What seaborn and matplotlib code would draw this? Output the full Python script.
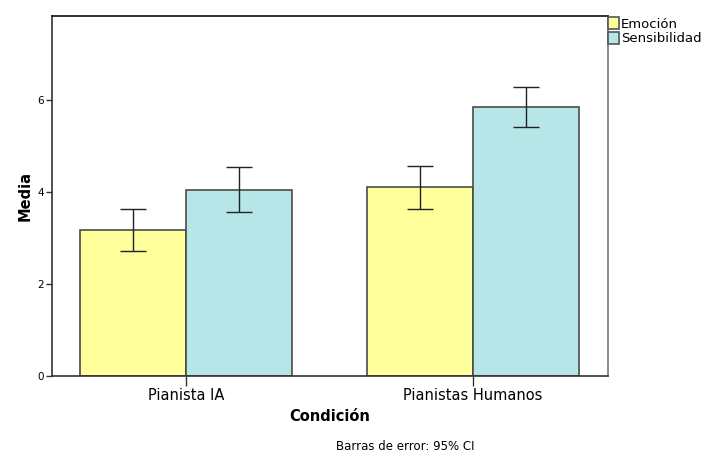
import numpy as np
import pandas as pd
import matplotlib
matplotlib.use("Agg")
import matplotlib.pyplot as plt
import seaborn as sns
from matplotlib.patches import Patch

# --- data ---
condiciones = ["Pianista IA", "Pianistas Humanos"]
medidas = ["Emoción", "Sensibilidad"]
medias_emocion = [3.17, 4.10]
medias_sensibilidad = [4.05, 5.85]
ci_bajo_emocion = [2.72, 3.64]
ci_alto_emocion = [3.63, 4.57]
ci_bajo_sensibilidad = [3.56, 5.41]
ci_alto_sensibilidad = [4.54, 6.29]
yticks = [0, 2, 4, 6]

colores = {"Emoción": "#FFFF9C", "Sensibilidad": "#B6E6E8"}
borde = "#4a4a4a"

df = pd.DataFrame({
    "Condición": condiciones * 2,
    "Medida": [medidas[0]] * 2 + [medidas[1]] * 2,
    "Media": medias_emocion + medias_sensibilidad,
    "lo": ci_bajo_emocion + ci_bajo_sensibilidad,
    "hi": ci_alto_emocion + ci_alto_sensibilidad,
})

sns.set_style("white")
plt.rcParams["font.family"] = ["DejaVu Sans"]
plt.rcParams["text.color"] = "black"
plt.rcParams["axes.labelcolor"] = "black"
plt.rcParams["xtick.color"] = "black"
plt.rcParams["ytick.color"] = "black"

fig = plt.figure(figsize=(7.24, 4.67), dpi=100)
ax = fig.add_axes([52 / 724, 1 - 376 / 467, 556 / 724, 360 / 467])

sns.barplot(
    data=df, x="Condición", y="Media", hue="Medida",
    order=condiciones, hue_order=medidas, palette=colores,
    errorbar=None, width=0.739, gap=0, dodge=True,
    edgecolor=borde, linewidth=1.2, saturation=1, ax=ax, legend=False,
)

# error bars centred on each drawn bar
for i, medida in enumerate(medidas):
    sub = df[df["Medida"] == medida].set_index("Condición").loc[condiciones]
    for j, patch in enumerate(ax.patches[i * len(condiciones):(i + 1) * len(condiciones)]):
        xc = patch.get_x() + patch.get_width() / 2
        m = sub["Media"].iloc[j]
        ax.errorbar(xc, m, yerr=[[m - sub["lo"].iloc[j]], [sub["hi"].iloc[j] - m]],
                    fmt="none", ecolor="#222222", elinewidth=1.0,
                    capsize=9.5, capthick=1.0)

ax.set_xlim(-0.467, 1.470)
ax.set_ylim(0, 7.83)
ax.set_yticks(yticks)
ax.set_yticklabels([str(t) for t in yticks], fontsize=7.5)
ax.tick_params(axis="y", left=True, length=4, width=1, color="#333333", pad=2)
ax.tick_params(axis="x", bottom=True, length=7, width=1, color="#333333",
               labelsize=10.5, pad=2)
ax.set_xlabel("Condición", fontsize=10.5, fontweight="bold", labelpad=4)
ax.set_ylabel("Media", fontsize=10.5, fontweight="bold", labelpad=3)

for side, col in [("left", "#333333"), ("bottom", "#333333"),
                  ("top", "#111111"), ("right", "#777777")]:
    ax.spines[side].set_visible(True)
    ax.spines[side].set_color(col)
    ax.spines[side].set_linewidth(1.2)

handles = [Patch(facecolor=colores[m], edgecolor="#555555", linewidth=1.2, label=m)
           for m in medidas]
fig.legend(handles=handles, loc="upper left", bbox_to_anchor=(607 / 724, 1 - 16 / 467),
           frameon=False, fontsize=9.5, handlelength=0.8, handleheight=1.0,
           handletextpad=0.15, labelspacing=0.1, borderaxespad=0, borderpad=0.1)

fig.text(405 / 724, 1 - 447 / 467, "Barras de error: 95% CI", ha="center",
         va="center", fontsize=8.5)

fig.savefig("out.png", dpi=100)
